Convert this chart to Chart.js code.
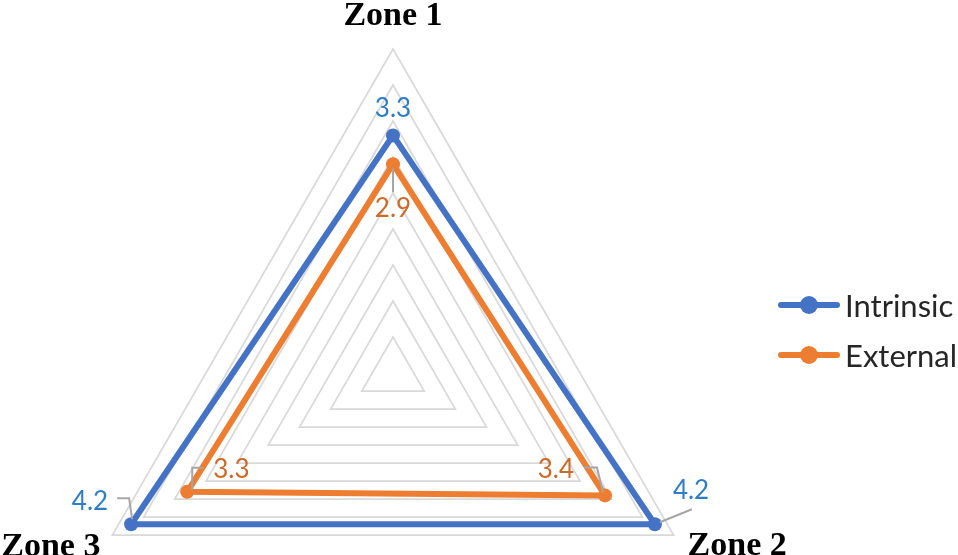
<!DOCTYPE html>
<html>
<head>
<meta charset="utf-8">
<title>Zones radar</title>
<script src="https://cdn.jsdelivr.net/npm/chart.js@4.4.1/dist/chart.umd.min.js"></script>
<style>
  html, body { margin: 0; padding: 0; width: 958px; height: 555px; overflow: hidden; background: #fff; }
  /* canvas is taller than the window: the radar scale sizes itself to a square,
     but a triangle only uses 1.5 radii of it, so the empty bottom part is cut off */
  #wrap { position: absolute; left: 0; top: 0; width: 958px; height: 700px; }
  #legend { position: absolute; left: 778px; top: 280px; font-family: Lato, "Open Sans", sans-serif; font-size: 31px; color: #262626; }
  .item { display: flex; align-items: center; height: 50px; }
  .mark { position: relative; width: 62px; height: 20px; margin-right: 5px; }
  .mark .ln { position: absolute; left: 0; right: 0; top: 7px; height: 6px; border-radius: 3px; }
  .mark .dot { position: absolute; left: 22px; top: 1px; width: 18px; height: 18px; border-radius: 50%; }
</style>
</head>
<body>
<div id="wrap"><canvas id="chart"></canvas></div>
<div id="legend"></div>
<script>
// data
const zones = ['Zone 1', 'Zone 2', 'Zone 3'];
const seriesNames = ['Intrinsic', 'External'];
const intrinsic = [3.3, 4.2, 4.2];
const external = [2.9, 3.4, 3.3];
const axisMin = 0;
const axisMax = 4.5;
const axisStep = 0.5;

const lineColors = ['#4472C4', '#ED7D31'];
const labelColors = ['#2E7DC6', '#CC6A2A'];

// where each value label sits relative to its point (Excel moved them by hand)
const labelPlacement = [
  [
    { dx: 0, dy: -27, align: 'center' },
    { dx: 18, dy: -34, align: 'left', leader: [[5, -2], [37, -15]] },
    { dx: -23, dy: -23, align: 'right', leader: [[-14, -26], [-2, -26], [1, -5]] }
  ],
  [
    { dx: 0, dy: 44, align: 'center', leader: [[0, 4], [0, 28]] },
    { dx: -31, dy: -26, align: 'right', leader: [[-21, -28], [-8, -28], [-2, -3]] },
    { dx: 26, dy: -22, align: 'left', leader: [[16, -24], [5, -24], [5, -2]] }
  ]
];

// zone names around the outer triangle
const zoneLabels = {
  id: 'zoneLabels',
  afterDraw(chart) {
    const r = chart.scales.r;
    const ctx = chart.ctx;
    ctx.save();
    ctx.font = 'bold 34px "Liberation Serif", "Times New Roman", serif';
    ctx.fillStyle = '#000';
    ctx.textBaseline = 'alphabetic';
    chart.data.labels.forEach((txt, i) => {
      const p = r.getPointPosition(i, r.drawingArea);
      let x = p.x, y;
      if (Math.abs(p.x - r.xCenter) < 2) {
        ctx.textAlign = 'center';
        y = p.y - 24;
      } else if (p.x > r.xCenter) {
        ctx.textAlign = 'left';
        x += 14;
        y = p.y + 20;
      } else {
        ctx.textAlign = 'right';
        x -= 12;
        y = p.y + 21;
      }
      ctx.fillText(txt, x, y);
    });
    ctx.restore();
  }
};

// value labels with grey leader lines
const valueLabels = {
  id: 'valueLabels',
  afterDatasetsDraw(chart) {
    const ctx = chart.ctx;
    ctx.save();
    ctx.font = '26px Lato, "Open Sans", sans-serif';
    ctx.textBaseline = 'middle';
    chart.data.datasets.forEach((ds, d) => {
      const meta = chart.getDatasetMeta(d);
      meta.data.forEach((pt, i) => {
        const pl = labelPlacement[d][i];
        if (pl.leader) {
          ctx.strokeStyle = '#A6A6A6';
          ctx.lineWidth = 2;
          ctx.beginPath();
          pl.leader.forEach(([lx, ly], k) => {
            if (k === 0) ctx.moveTo(pt.x + lx, pt.y + ly);
            else ctx.lineTo(pt.x + lx, pt.y + ly);
          });
          ctx.stroke();
        }
        ctx.fillStyle = labelColors[d];
        ctx.textAlign = pl.align;
        ctx.fillText(ds.data[i].toFixed(1), pt.x + pl.dx, pt.y + pl.dy);
      });
    });
    ctx.restore();
  }
};

const chart = new Chart(document.getElementById('chart'), {
  type: 'radar',
  data: {
    labels: zones,
    datasets: [
      {
        label: seriesNames[0],
        data: intrinsic,
        borderColor: lineColors[0],
        backgroundColor: lineColors[0],
        pointBackgroundColor: lineColors[0],
        borderWidth: 6,
        pointRadius: 7,
        pointBorderWidth: 0,
        borderJoinStyle: 'round',
        fill: false
      },
      {
        label: seriesNames[1],
        data: external,
        borderColor: lineColors[1],
        backgroundColor: lineColors[1],
        pointBackgroundColor: lineColors[1],
        borderWidth: 6,
        pointRadius: 7,
        pointBorderWidth: 0,
        borderJoinStyle: 'round',
        fill: false
      }
    ]
  },
  options: {
    responsive: true,
    maintainAspectRatio: false,
    animation: false,
    layout: { padding: { top: 49, bottom: 3, left: 69, right: 241 } },
    elements: { line: { tension: 0 } },
    plugins: {
      legend: { display: false },
      tooltip: { enabled: false }
    },
    scales: {
      r: {
        min: axisMin,
        max: axisMax,
        ticks: { stepSize: axisStep, display: false },
        grid: { color: '#D9D9D9', lineWidth: 1.75 },
        angleLines: { display: false },
        pointLabels: { display: false }
      }
    }
  },
  plugins: [zoneLabels, valueLabels]
});

// legend built from the datasets, line with a dot like the Excel one
const legendEl = document.getElementById('legend');
chart.data.datasets.forEach((ds) => {
  const item = document.createElement('div');
  item.className = 'item';
  item.innerHTML = '<span class="mark"><span class="ln" style="background:' + ds.borderColor +
    '"></span><span class="dot" style="background:' + ds.borderColor + '"></span></span>' +
    '<span>' + ds.label + '</span>';
  legendEl.appendChild(item);
});
</script>
</body>
</html>
